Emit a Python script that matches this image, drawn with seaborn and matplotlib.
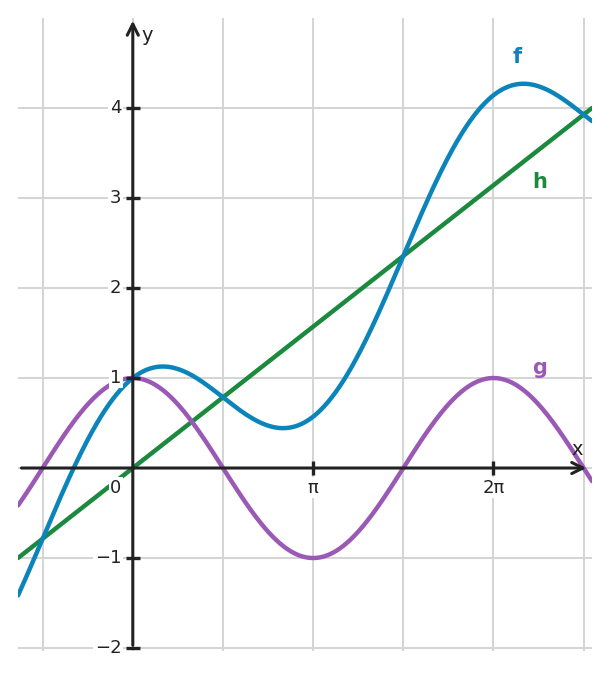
import numpy as np
import pandas as pd
import seaborn as sns
import matplotlib.pyplot as plt

# funciones del dibujo: f = x/2 + cos x, g = cos x, h = x/2
x_lim = (-2.0, 8.0)
y_lim = (-2.033, 5.0)
h_slope = 0.5
g_amplitude = 1.0
curve_names = ['h', 'g', 'f']
curve_colors = {'f': '#0a84ba', 'g': '#9b59b6', 'h': '#1b8a3e'}
y_tick_values = [-2, -1, 1, 2, 3, 4]
y_tick_labels = ['−2', '−1', '1', '2', '3', '4']
x_tick_values = [np.pi, 2 * np.pi]
x_tick_labels = ['π', '2π']

xs = np.linspace(x_lim[0], x_lim[1], 600)
h_vals = h_slope * xs
g_vals = g_amplitude * np.cos(xs)
f_vals = h_vals + g_vals

df = pd.DataFrame({
    'x': np.concatenate([xs, xs, xs]),
    'y': np.concatenate([h_vals, g_vals, f_vals]),
    'curva': np.repeat(curve_names, len(xs)),
})

sns.set_theme(style='whitegrid')
plt.rcParams['font.family'] = ['DejaVu Sans']

fig = plt.figure(figsize=(6.1, 6.77), dpi=100)
ax = fig.add_axes([18 / 610, 26 / 677, 574 / 610, 633 / 677])

sns.lineplot(data=df, x='x', y='y', hue='curva', hue_order=curve_names,
             palette=curve_colors, linewidth=3.2, legend=False, ax=ax,
             sort=False, estimator=None)

ax.set_xlim(*x_lim)
ax.set_ylim(*y_lim)
ax.set_xticks(np.arange(-1, 6) * np.pi / 2)
ax.set_yticks(range(-2, 5))
ax.tick_params(length=0, labelbottom=False, labelleft=False)
ax.grid(True, color='#d4d4d4', linewidth=1.4)
for s in ax.spines.values():
    s.set_visible(False)
ax.set_xlabel('')
ax.set_ylabel('')

axis_color = '#222222'
arrow = dict(arrowstyle='->', lw=2.2, color=axis_color, mutation_scale=20,
             shrinkA=0, shrinkB=0)
ax.annotate('', xy=(7.9, 0), xytext=(-1.94, 0), arrowprops=arrow)
ax.annotate('', xy=(0, 4.97), xytext=(0, -1.97), arrowprops=arrow)

# marcas de los ejes
ax.plot(np.zeros(len(y_tick_values)), y_tick_values, ls='none', marker='_',
        ms=10, mew=2.4, color=axis_color)
ax.plot(x_tick_values, np.zeros(len(x_tick_values)), ls='none', marker='|',
        ms=10, mew=2.4, color=axis_color)

box = dict(facecolor='white', edgecolor='none', pad=1.0)
for v, lab in zip(y_tick_values, y_tick_labels):
    ax.text(-0.2, v, lab, ha='right', va='center', fontsize=13,
            color=axis_color, bbox=box)
for v, lab in zip(x_tick_values, x_tick_labels):
    ax.text(v, -0.22, lab, ha='center', va='center', fontsize=13,
            color=axis_color, bbox=box)
ax.text(-0.3, -0.22, '0', ha='center', va='center', fontsize=13,
        color=axis_color, bbox=box)

ax.text(7.75, 0.21, 'x', ha='center', va='center', fontsize=14, color=axis_color)
ax.text(0.25, 4.81, 'y', ha='center', va='center', fontsize=14, color=axis_color)

# etiquetas de las curvas
ax.text(6.70, 4.57, 'f', ha='center', va='center', fontsize=15,
        fontweight='bold', color=curve_colors['f'])
ax.text(7.08, 3.18, 'h', ha='center', va='center', fontsize=15,
        fontweight='bold', color=curve_colors['h'])
ax.text(7.08, 1.11, 'g', ha='center', va='center', fontsize=15,
        fontweight='bold', color=curve_colors['g'])

fig.savefig('out.png', dpi=100)
